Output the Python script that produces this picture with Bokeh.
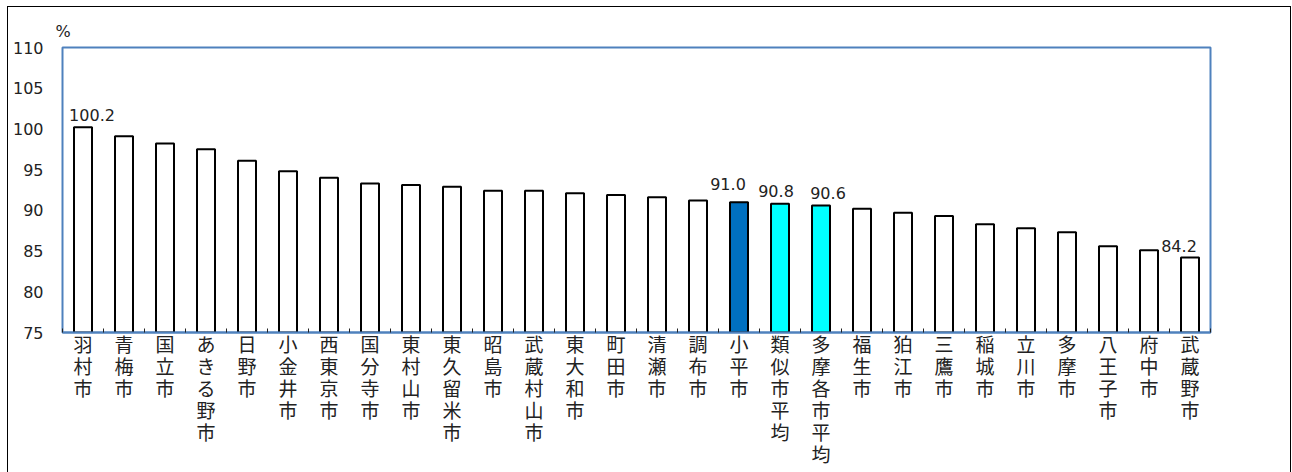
from bokeh.plotting import figure
from bokeh.models import ColumnDataSource, FixedTicker, Range1d, LinearAxis
from bokeh.core.properties import value
from bokeh.embed import file_html
from bokeh.resources import INLINE

cities = ["羽村市", "青梅市", "国立市", "あきる野市", "日野市", "小金井市", "西東京市",
          "国分寺市", "東村山市", "東久留米市", "昭島市", "武蔵村山市", "東大和市", "町田市",
          "清瀬市", "調布市", "小平市", "類似市平均", "多摩各市平均", "福生市", "狛江市",
          "三鷹市", "稲城市", "立川市", "多摩市", "八王子市", "府中市", "武蔵野市"]
values = [100.2, 99.1, 98.2, 97.5, 96.1, 94.8, 94.0,
          93.3, 93.1, 92.9, 92.4, 92.4, 92.1, 91.9,
          91.6, 91.2, 91.0, 90.8, 90.6, 90.2, 89.7,
          89.3, 88.3, 87.8, 87.3, 85.6, 85.1, 84.2]
self_city = ["小平市"]
averages = ["類似市平均", "多摩各市平均"]
labeled = ["羽村市", "小平市", "類似市平均", "多摩各市平均", "武蔵野市"]
y_ticks = [75, 80, 85, 90, 95, 100, 105, 110]
y_min, y_max = 75, 110

# label nudges (screen px)
label_dx = {"羽村市": 9, "小平市": -11, "類似市平均": -4, "多摩各市平均": 7, "武蔵野市": -11}
label_dy = {"羽村市": -12, "小平市": -18, "類似市平均": -13, "多摩各市平均": -12, "武蔵野市": -12}

n = len(cities)
pos = list(range(n))
bounds = [i - 0.5 for i in range(n + 1)]

colors = []
for c in cities:
    if c in self_city:
        colors.append("#0070C0")
    elif c in averages:
        colors.append("#00FFFF")
    else:
        colors.append("#FFFFFF")

src = ColumnDataSource(dict(x=pos, city=cities, value=values, color=colors))

lab_i = [i for i, c in enumerate(cities) if c in labeled]
lab_src = ColumnDataSource(dict(
    x=lab_i, value=[values[i] for i in lab_i],
    text=[f"{values[i]:.1f}" for i in lab_i],
    dx=[label_dx[cities[i]] for i in lab_i], dy=[label_dy[cities[i]] for i in lab_i]))

p = figure(x_range=Range1d(-0.5, n - 0.5), y_range=Range1d(y_min, y_max),
           width=1284, height=466, output_backend="svg", toolbar_location=None,
           min_border_left=54, min_border_right=82, min_border_top=40, min_border_bottom=141)
p.styles = {"border-top": "1px solid #000", "border-left": "1px solid #000",
            "border-right": "1px solid #000", "box-sizing": "border-box",
            "margin-left": "7px", "margin-top": "6px"}

p.outline_line_color = "#4F81BD"
p.outline_line_width = 2
p.xgrid.grid_line_color = None
p.ygrid.grid_line_color = None
p.background_fill_color = "white"
p.border_fill_color = "white"

p.title.text = "%"
p.title.text_font = "DejaVu Sans"
p.title.text_font_size = "16px"
p.title.text_font_style = "normal"
p.title.text_color = "#222222"
p.title.align = "left"
p.title.offset = -7
p.title.standoff = 14

p.vbar(x="x", top="value", bottom=y_min, width=0.44, source=src,
       fill_color="color", line_color="black", line_width=2)

p.text(x="x", y="value", text="text", x_offset="dx", y_offset="dy", source=lab_src,
       text_align="center", text_baseline="alphabetic",
       text_font=value("DejaVu Sans"), text_font_size="16px", text_color="#222222")

ya = p.yaxis[0]
ya.ticker = FixedTicker(ticks=y_ticks)
ya.axis_line_color = None
ya.major_tick_line_color = None
ya.major_tick_out = 0
ya.major_tick_in = 0
ya.minor_tick_line_color = None
ya.major_label_standoff = 19
ya.major_label_text_font = "DejaVu Sans"
ya.major_label_text_font_size = "16px"
ya.major_label_text_color = "#222222"

label_font = "'DejaVu Sans', 'Noto Sans CJK JP'"
max_len = max(len(c) for c in cities)


def style_axis(ax, i):
    ax.ticker = FixedTicker(ticks=pos, minor_ticks=bounds)
    ax.major_label_overrides = {k: (c[i] if i < len(c) else " ") for k, c in zip(pos, cities)}
    ax.major_tick_line_color = None
    ax.major_tick_out = 0
    ax.major_tick_in = 0
    if i == 0:
        ax.minor_tick_line_color = "#222222"
        ax.minor_tick_in = 4
        ax.minor_tick_out = 0
    else:
        ax.minor_tick_line_color = None
        ax.minor_tick_in = 0
        ax.minor_tick_out = 0
    ax.major_label_standoff = 1 if i == 0 else -3
    ax.major_label_text_font = label_font
    ax.major_label_text_font_size = "19px"
    ax.major_label_text_color = "#222222"
    ax.major_label_orientation = "horizontal"


xa = p.xaxis[0]
xa.axis_line_color = "#4F81BD"
xa.axis_line_width = 2
style_axis(xa, 0)
for i in range(1, max_len):
    ax = LinearAxis(axis_line_color=None)
    style_axis(ax, i)
    p.add_layout(ax, "below")

open("out.html", "w").write(file_html(p, INLINE))
